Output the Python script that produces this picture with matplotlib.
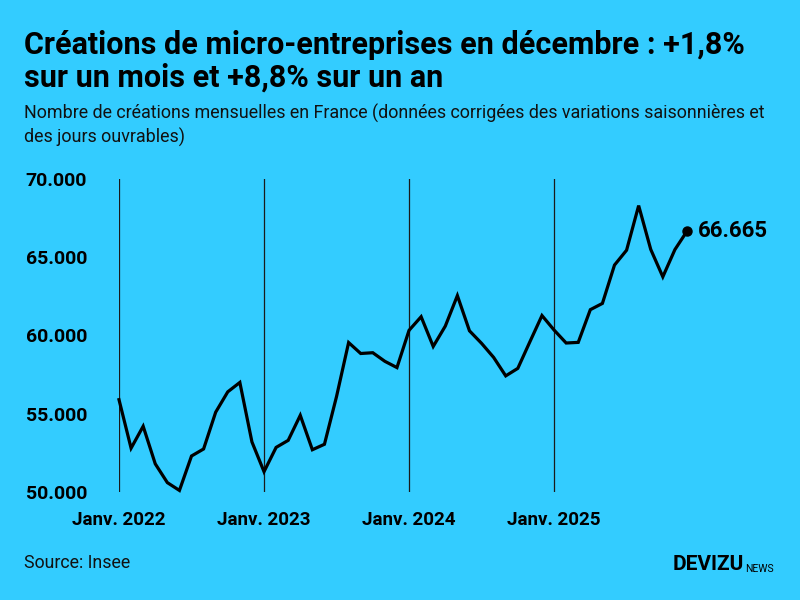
import matplotlib
matplotlib.use('Agg')
import matplotlib.pyplot as plt
from matplotlib.ticker import FuncFormatter

# monthly micro-entreprise creations, Jan 2022 - Dec 2025
months = list(range(48))
creations = [
    55900, 52800, 54200, 51800, 50600, 50100, 52300, 52750, 55100, 56400, 57000, 53200,
    51300, 52850, 53300, 54900, 52700, 53050, 56100, 59550, 58850, 58900, 58350, 57950,
    60330, 61200, 59300, 60600, 62550, 60300, 59500, 58600, 57420, 57900, 59600, 61275,
    60350, 59520, 59560, 61650, 62050, 64500, 65450, 68300, 65500, 63750, 65490, 66665,
]
year_ticks = [0, 12, 24, 36]
year_labels = ["Janv. 2022", "Janv. 2023", "Janv. 2024", "Janv. 2025"]
last_label = "66.665"

bg = "#33ccff"
fam = ['Roboto', 'DejaVu Sans']

fig = plt.figure(figsize=(8, 6), dpi=100, facecolor=bg)
ax = fig.add_axes([119 / 800, 108 / 600, 568 / 800, 313 / 600], facecolor=bg)

for t in year_ticks:
    ax.axvline(t, color="#1a1a1a", lw=0.9, zorder=1)

ax.plot(months, creations, color="black", lw=2.3, solid_joinstyle="miter", zorder=3, clip_on=False)
ax.plot(months[-1], creations[-1], "o", color="black", ms=6.5, zorder=4, clip_on=False)
ax.annotate(last_label, (months[-1], creations[-1]), xytext=(8, 0), textcoords="offset points",
            va="center", ha="left", fontsize=16, fontweight="bold", family=fam, annotation_clip=False)

ax.set_xlim(0, 47)
ax.set_ylim(50000, 70000)
ax.set_yticks([50000, 55000, 60000, 65000, 70000])
ax.yaxis.set_major_formatter(FuncFormatter(lambda v, p: f"{int(v):,}".replace(",", ".")))
ax.set_xticks(year_ticks)
ax.set_xticklabels(year_labels)
ax.tick_params(axis="y", length=0, labelsize=14, pad=23)
ax.tick_params(axis="x", length=0, labelsize=13.5, pad=14)
for lab in ax.get_xticklabels() + ax.get_yticklabels():
    lab.set_fontweight("bold")
    lab.set_family(fam)
for s in ax.spines.values():
    s.set_visible(False)

fig.text(24 / 800, 1 - 45 / 600, "Créations de micro-entreprises en décembre : +1,8%",
         fontsize=22, fontweight="bold", family=fam, va="center")
fig.text(24 / 800, 1 - 78 / 600, "sur un mois et +8,8% sur un an",
         fontsize=22, fontweight="bold", family=fam, va="center")
fig.text(24 / 800, 1 - 113 / 600, "Nombre de créations mensuelles en France (données corrigées des variations saisonnières et",
         fontsize=12.9, family=fam, va="center", color="#111111")
fig.text(24 / 800, 1 - 137 / 600, "des jours ouvrables)",
         fontsize=12.9, family=fam, va="center", color="#111111")
fig.text(24 / 800, 1 - 563 / 600, "Source: Insee", fontsize=12.8, family=fam, va="center", color="#111111")
fig.text(744 / 800, 1 - 565 / 600, "DEVIZU", fontsize=15, fontweight="bold", family=fam,
         va="center", ha="right")
fig.text(745 / 800, 1 - 569 / 600, "NEWS", fontsize=7.5, family=fam, va="center", ha="left")

fig.savefig("out.png", dpi=100, facecolor=bg)
